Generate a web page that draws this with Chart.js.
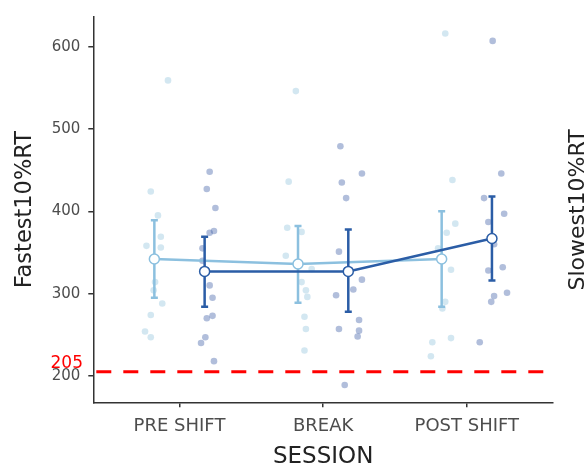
<!DOCTYPE html>
<html>
<head>
<meta charset="utf-8">
<script src="https://cdn.jsdelivr.net/npm/chart.js@4/dist/chart.umd.min.js"></script>
<style>
  html, body { margin: 0; padding: 0; background: #fff; }
  #wrap { width: 585px; height: 470px; }
</style>
</head>
<body>
<div id="wrap"><canvas id="chart"></canvas></div>
<script>
// ==== DATA ====
const categories = ['PRE SHIFT', 'BREAK', 'POST SHIFT'];
const yTicks     = [200, 300, 400, 500, 600];
const cutoff     = 205;

// group means with error bar ends (light = first group, dark = second group)
const lightMean = [342, 336, 342];
const lightLo   = [295, 289, 284];
const lightHi   = [389, 382, 400];
const darkMean  = [327, 327, 367];
const darkLo    = [284, 278, 316];
const darkHi    = [369, 378, 418];

// raw jittered observations (x on the session axis, 0..2)
const lightPtsX = [-0.08,-0.2,-0.15,-0.13,-0.23,-0.13,-0.17,-0.18,-0.12,-0.2,-0.24,-0.2,
                   0.81,0.76,0.75,0.85,0.74,0.92,0.85,0.88,0.89,0.87,0.88,0.87,
                   1.85,1.9,1.92,1.86,1.8,1.89,1.85,1.83,1.89,1.76,1.75];
const lightPtsY = [559,424,395,369,358,356,314,304,288,274,254,247,
                   546,436,380,375,346,330,314,304,296,272,257,231,
                   616,438,385,374,355,329,290,282,246,241,224];
const darkPtsX  = [0.21,0.19,0.25,0.24,0.21,0.16,0.16,0.21,0.23,0.19,0.23,0.18,0.15,0.24,
                   1.12,1.27,1.13,1.16,1.11,1.27,1.21,1.09,1.25,1.11,1.25,1.24,1.15,
                   2.18,2.24,2.12,2.26,2.15,2.19,2.15,2.25,2.28,2.19,2.17,2.09];
const darkPtsY  = [448,427,404,376,374,355,340,310,295,270,273,247,240,218,
                   479,446,435,416,351,317,305,298,268,257,255,248,189,
                   607,446,416,397,387,360,328,332,301,297,290,241];

// ==== STYLE ====
const FONT       = 'DejaVu Sans';
const LIGHT      = '#8cc0df';
const DARK       = '#2b5da6';
const DODGE      = 0.175;
const X_MIN = -0.6, X_MAX = 2.6;
const Y_MIN = 168,  Y_MAX = 636;

const pairs = (xs, ys) => xs.map((x, i) => ({x, y: ys[i]}));
const means = (arr, off) => arr.map((y, i) => ({x: i + off, y}));

// error bars go under their mean line + circles
const errorBars = {
  id: 'errorBars',
  beforeDatasetDraw(chart, args) {
    const ds = chart.data.datasets[args.index];
    if (!ds.errLo) return;
    const {ctx, scales: {x, y}} = chart;
    ctx.save();
    ctx.strokeStyle = ds.borderColor;
    ctx.lineWidth = 2.5;
    ds.data.forEach((p, i) => {
      const px = x.getPixelForValue(p.x);
      const lo = y.getPixelForValue(ds.errLo[i]);
      const hi = y.getPixelForValue(ds.errHi[i]);
      ctx.beginPath();
      ctx.moveTo(px, lo); ctx.lineTo(px, hi);
      ctx.moveTo(px - 3.5, lo); ctx.lineTo(px + 3.5, lo);
      ctx.moveTo(px - 3.5, hi); ctx.lineTo(px + 3.5, hi);
      ctx.stroke();
    });
    ctx.restore();
  }
};

// red cutoff label + the second (clipped) panel's axis title
const extraText = {
  id: 'extraText',
  afterDraw(chart) {
    const {ctx, scales: {y}} = chart;
    ctx.save();
    ctx.fillStyle = '#ff0000';
    ctx.font = `17px "${FONT}"`;
    ctx.textAlign = 'right';
    ctx.textBaseline = 'middle';
    ctx.fillText(String(cutoff), 83, y.getPixelForValue(cutoff) - 8);

    ctx.fillStyle = '#222';
    ctx.font = `22px "${FONT}"`;
    ctx.textAlign = 'center';
    ctx.textBaseline = 'alphabetic';
    ctx.translate(584, 210);
    ctx.rotate(-Math.PI / 2);
    ctx.fillText('Slowest10%RT', 0, 0);
    ctx.restore();
  }
};

new Chart(document.getElementById('chart'), {
  type: 'scatter',
  data: {
    datasets: [
      {
        data: means(lightMean, -DODGE), errLo: lightLo, errHi: lightHi,
        showLine: true, borderColor: LIGHT, borderWidth: 2.5,
        pointRadius: 5, pointBackgroundColor: '#fff',
        pointBorderColor: LIGHT, pointBorderWidth: 1.5, order: 1
      },
      {
        data: means(darkMean, DODGE), errLo: darkLo, errHi: darkHi,
        showLine: true, borderColor: DARK, borderWidth: 2.5,
        pointRadius: 5, pointBackgroundColor: '#fff',
        pointBorderColor: DARK, pointBorderWidth: 1.5, order: 0
      },
      {
        data: pairs(lightPtsX, lightPtsY),
        pointRadius: 3.3, borderWidth: 0,
        backgroundColor: 'rgba(158,202,225,0.45)', order: 3
      },
      {
        data: pairs(darkPtsX, darkPtsY),
        pointRadius: 3.3, borderWidth: 0,
        backgroundColor: 'rgba(70,100,170,0.42)', order: 2
      },
      {
        data: [{x: X_MIN, y: cutoff}, {x: X_MAX, y: cutoff}],
        showLine: true, borderColor: '#ff0000', borderWidth: 3,
        borderDash: [15, 12], borderDashOffset: -3, pointRadius: 0, order: 5
      }
    ]
  },
  options: {
    responsive: true,
    maintainAspectRatio: false,
    animation: false,
    layout: { padding: { left: 0, right: 32, top: 12, bottom: 0 } },
    plugins: { legend: { display: false }, tooltip: { enabled: false } },
    scales: {
      x: {
        type: 'linear', min: X_MIN, max: X_MAX,
        afterBuildTicks: s => { s.ticks = categories.map((_, i) => ({value: i})); },
        afterFit: s => { s.height = 67.7; },
        ticks: {
          callback: v => categories[v] ?? '',
          color: '#4d4d4d', font: { family: FONT, size: 18 }, padding: 8,
          maxRotation: 0
        },
        grid: { display: true, drawOnChartArea: false, drawTicks: true,
                tickLength: 5, color: '#333', lineWidth: 1.5 },
        border: { display: true, color: '#333', width: 1.5 },
        title: { display: true, text: 'SESSION', color: '#222',
                 font: { family: FONT, size: 23, lineHeight: 1 },
                 padding: { top: 0, bottom: 1 } }
      },
      y: {
        type: 'linear', min: Y_MIN, max: Y_MAX,
        afterBuildTicks: s => { s.ticks = yTicks.map(v => ({value: v})); },
        afterFit: s => { s.width = 93.3; },
        ticks: { color: '#4d4d4d', font: { family: FONT, size: 15 }, padding: 8 },
        grid: { display: true, drawOnChartArea: false, drawTicks: true,
                tickLength: 5, color: '#333', lineWidth: 1.5 },
        border: { display: true, color: '#333', width: 1.5 },
        title: { display: true, text: 'Fastest10%RT', color: '#222',
                 font: { family: FONT, size: 22.5 }, padding: { top: 12 } }
      }
    }
  },
  plugins: [errorBars, extraText]
});
</script>
</body>
</html>
